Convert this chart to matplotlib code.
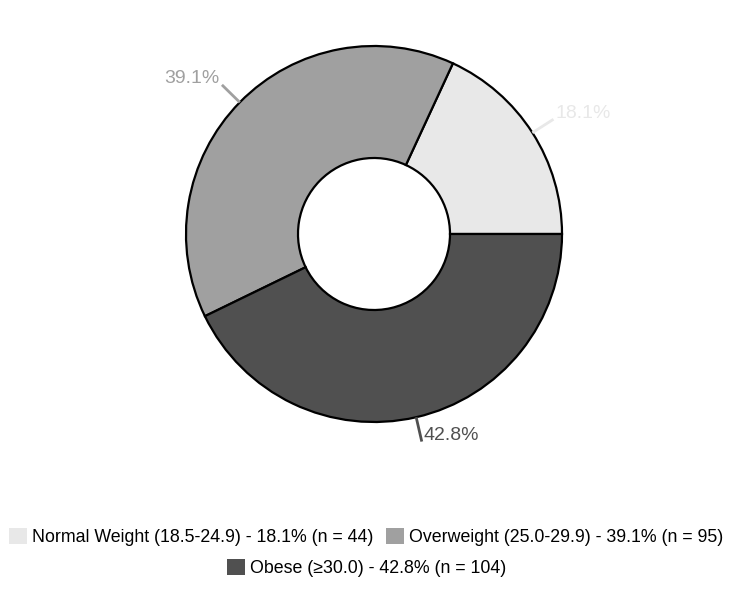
import numpy as np
import matplotlib
matplotlib.use("Agg")
import matplotlib.pyplot as plt
from matplotlib.patches import Patch

plt.rcParams['font.family'] = ['Liberation Sans', 'DejaVu Sans']

categories = ["Normal Weight (18.5-24.9)", "Overweight (25.0-29.9)", "Obese (≥30.0)"]
counts = [44, 95, 104]
percents = [18.1, 39.1, 42.8]
colors = ["#e8e8e8", "#a0a0a0", "#505050"]

W, H = 750, 598
fig = plt.figure(figsize=(W / 100, H / 100), dpi=100)
ax = fig.add_axes([0, 0, 1, 1])
ax.set_xlim(0, W)
ax.set_ylim(0, H)
ax.set_aspect('equal')
ax.axis('off')

cx, cy = 374, H - 234
R, r_in = 188, 76
wedges, _ = ax.pie(counts, colors=colors, startangle=0, counterclock=True,
                   radius=R, center=(cx, cy),
                   wedgeprops=dict(width=R - r_in, edgecolor='black', linewidth=1.6))
ax.set_xlim(0, W)
ax.set_ylim(0, H)

for w, p, c in zip(wedges, percents, colors):
    ang = np.deg2rad((w.theta1 + w.theta2) / 2)
    x0, y0 = cx + R * np.cos(ang), cy + R * np.sin(ang)
    x1, y1 = cx + (R + 25) * np.cos(ang), cy + (R + 25) * np.sin(ang)
    ax.plot([x0, x1], [y0, y1], color=c, lw=2.0, solid_capstyle='butt')
    right = np.cos(ang) >= 0
    ax.text(x1 + (2 if right else -2), y1 + 6, f"{p:.1f}%", color=c, fontsize=14,
            ha='left' if right else 'right', va='center')

labels = [f"{cat} - {p:.1f}% (n = {n})" for cat, p, n in zip(categories, percents, counts)]
handles = [Patch(facecolor=c, edgecolor='none') for c in colors]

common = dict(frameon=False, fontsize=12.8, handlelength=1.0, handleheight=1.0,
              handletextpad=0.3, columnspacing=0.7, borderpad=0, borderaxespad=0)
leg1 = fig.legend(handles[:2], labels[:2], ncol=2, loc='center',
                  bbox_to_anchor=(366.5 / W, 1 - 537 / H), **common)
leg2 = fig.legend(handles[2:], labels[2:], ncol=1, loc='center',
                  bbox_to_anchor=(367 / W, 1 - 568 / H), **common)

fig.savefig("out.png", dpi=100)
